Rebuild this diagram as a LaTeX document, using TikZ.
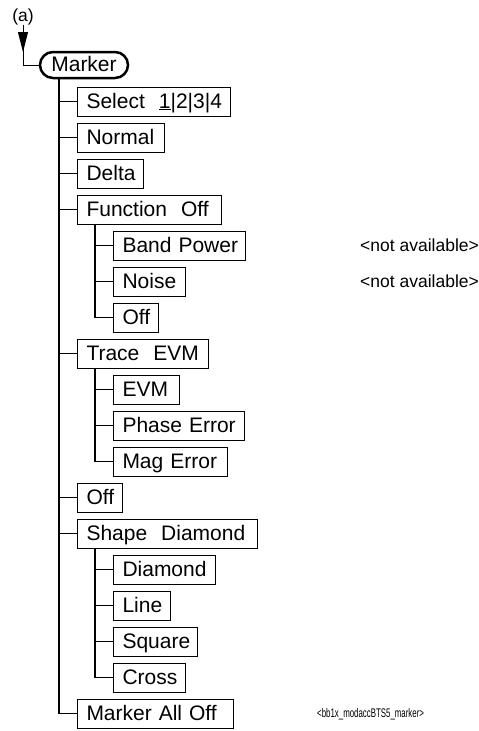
\documentclass[tikz,border=0pt]{standalone}
\usepackage{fontspec}
\setmainfont{Liberation Sans}
\usepackage{graphicx}
\usetikzlibrary{arrows.meta}
\tikzset{
  menubox/.style={draw, line width=1pt, anchor=west, minimum height=29pt,
    inner xsep=9pt, inner ysep=0pt, text width=#1-18pt, align=left,
    text height=15pt, text depth=2pt, font=\fontsize{21}{25}\selectfont},
  rootbox/.style={draw, line width=2.5pt, rounded corners=13pt,
    minimum width=88pt, minimum height=26pt, inner sep=0pt,
    text height=15pt, text depth=2pt, font=\fontsize{21}{25}\selectfont},
  conn/.style={line width=1pt},
  trunk/.style={line width=1.3pt},
  note/.style={anchor=west, inner sep=0pt, font=\fontsize{17.5}{20}\selectfont},
}
\begin{document}
\begin{tikzpicture}[x=1pt,y=-1pt]
\useasboundingbox[fill=white] (0,0) rectangle (479,731);
% heading and root
\node[anchor=base, inner sep=0pt, font=\fontsize{17.5}{20}\selectfont] (a) at (23,21) {(a)};
\node[rootbox] (mk) at (84,65) {Marker};
\coordinate (corner) at (23,65);
\coordinate (tip) at (23,52);
\coordinate (tr) at (59,0);
\coordinate (st) at (95,0);
% menu items
\node[menubox=153pt] (sel) at (77,101.5) {\mbox{Select\ \ \underline{1}|2|3|4}};
\node[menubox=87pt] (nor) at (77,137.5) {\mbox{Normal}};
\node[menubox=66pt] (del) at (77,173.5) {\mbox{Delta}};
\node[menubox=144pt] (fun) at (77,209.5) {\mbox{Function\ \ Off}};
\node[menubox=132pt] (bp) at (113,245.5) {\mbox{Band Power}};
\node[menubox=72pt] (noi) at (113,281.5) {\mbox{Noise}};
\node[menubox=45pt] (offa) at (113,317.5) {\mbox{Off}};
\node[menubox=131pt] (tra) at (77,353.5) {\mbox{Trace\ \ EVM}};
\node[menubox=66pt] (evm) at (113,389.5) {\mbox{EVM}};
\node[menubox=131pt] (pha) at (113,425.5) {\mbox{Phase Error}};
\node[menubox=114pt] (mag) at (113,461.5) {\mbox{Mag Error}};
\node[menubox=45pt] (offb) at (77,497.5) {\mbox{Off}};
\node[menubox=180pt] (sha) at (77,533.5) {\mbox{Shape\ \ Diamond}};
\node[menubox=102pt] (dia) at (113,569.5) {\mbox{Diamond}};
\node[menubox=57pt] (lin) at (113,605.5) {\mbox{Line}};
\node[menubox=84pt] (squ) at (113,641.5) {\mbox{Square}};
\node[menubox=72pt] (cro) at (113,677.5) {\mbox{Cross}};
\node[menubox=156pt] (mao) at (77,713.5) {\mbox{Marker All Off}};
% notes
\node[note] (na1) at (360,245.5) {<not available>};
\node[note] (na2) at (360,281.5) {<not available>};
\node[anchor=west, inner sep=0pt] (fig) at (317,714)
  {\scalebox{0.63}[1]{\fontsize{12.5}{14}\selectfont <bb1x\_modaccBTS5\_marker>}};
% entry arrow
\draw[conn] (a.south) -- (corner) -- (mk.west);
\draw[conn, -{Triangle[length=20pt,width=10pt]}] (a.south) -- (tip);
% main trunk
\draw[trunk] (mk.south -| tr) -- (tr |- mao.west);
\foreach \n in {sel,nor,del,fun,tra,offb,sha,mao}
  \draw[conn] (tr |- \n.west) -- (\n.west);
% sub trunks
\draw[trunk] (fun.south -| st) -- (st |- offa.west);
\foreach \n in {bp,noi,offa}
  \draw[conn] (st |- \n.west) -- (\n.west);
\draw[trunk] (tra.south -| st) -- (st |- mag.west);
\foreach \n in {evm,pha,mag}
  \draw[conn] (st |- \n.west) -- (\n.west);
\draw[trunk] (sha.south -| st) -- (st |- cro.west);
\foreach \n in {dia,lin,squ,cro}
  \draw[conn] (st |- \n.west) -- (\n.west);
\end{tikzpicture}
\end{document}
